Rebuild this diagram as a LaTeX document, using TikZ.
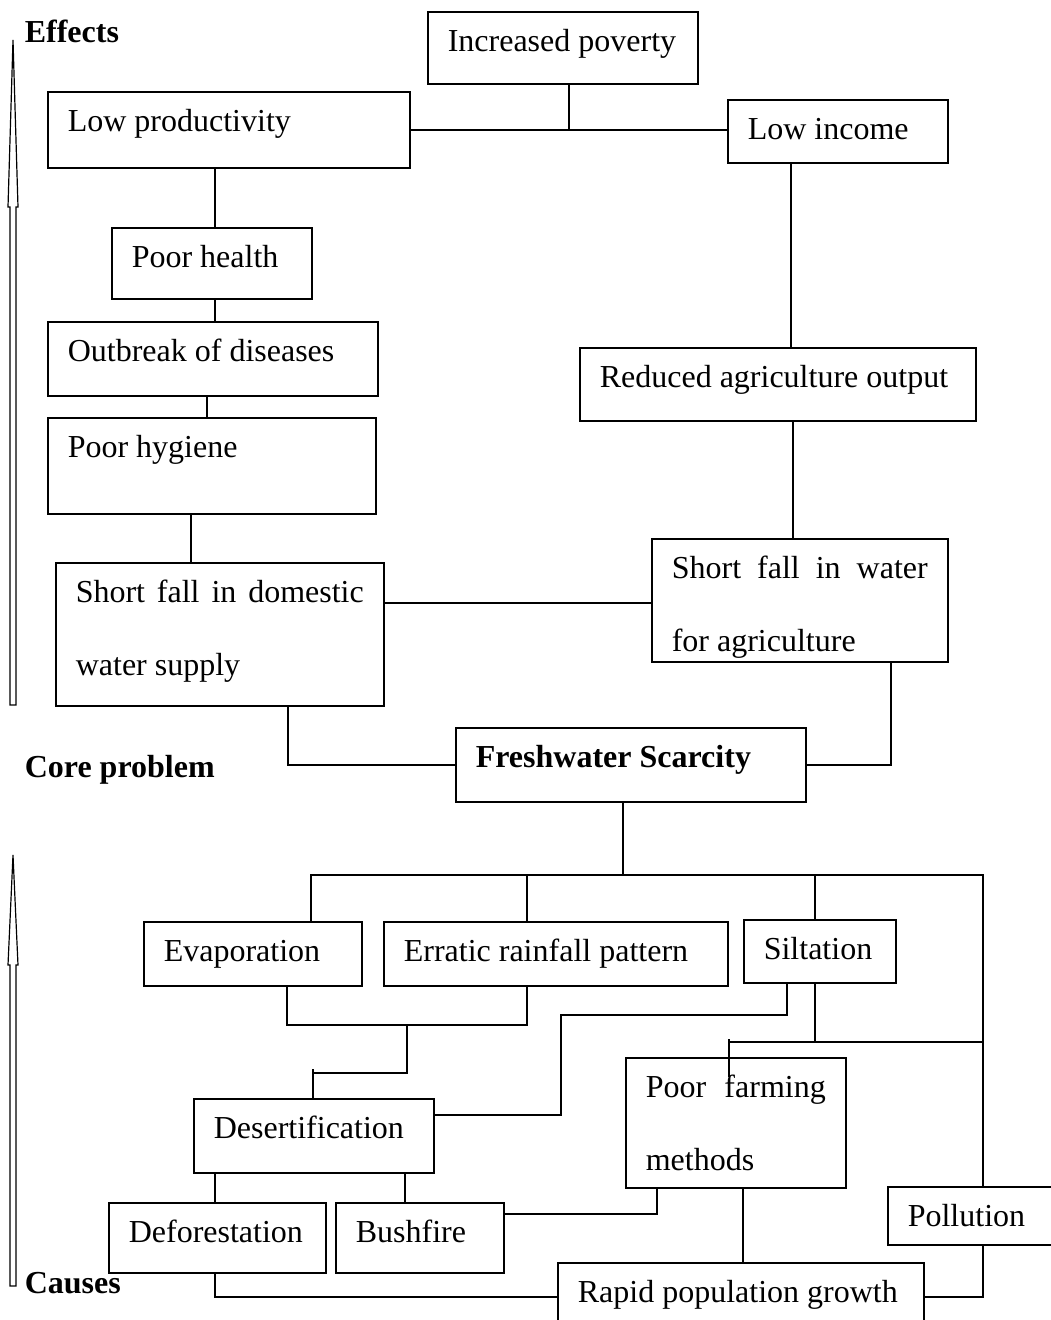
\documentclass[tikz,border=0pt]{standalone}
\usepackage{fontspec}
\setmainfont{Liberation Serif}
\usepackage{tikz}

\newcommand{\boxtxt}[3]{\parbox[t][#2pt][t]{\dimexpr#1pt-40pt\relax}{\rule{0pt}{40pt}#3}}
\tikzset{
  blk/.style={draw, line width=1.6pt, anchor=north west, inner xsep=20pt, inner ysep=0pt},
  tag/.style={anchor=base west, inner sep=0pt, font=\fontsize{32pt}{73pt}\selectfont\bfseries}
}

\begin{document}
\begin{tikzpicture}[x=1pt, y=-1pt, line width=1.6pt, font=\fontsize{32pt}{73pt}\selectfont]
      \useasboundingbox (0,0) rectangle (1050,1320);
      % effects
      \node[blk] (poverty) at (427,11) {\boxtxt{270}{72}{Increased poverty}};
      \node[blk] (lowprod) at (47,91) {\boxtxt{362}{76}{Low productivity}};
      \node[blk] (lowinc) at (727,99) {\boxtxt{220}{63}{Low income}};
      \node[blk] (health) at (111,227) {\boxtxt{200}{71}{Poor health}};
      \node[blk] (outbreak) at (47,321) {\boxtxt{330}{74}{Outbreak of diseases}};
      \node[blk] (hygiene) at (47,417) {\boxtxt{328}{96}{Poor hygiene}};
      \node[blk] (reduced) at (579,347) {\boxtxt{396}{73}{Reduced agriculture output}};
      \node[blk] (domestic) at (55,562) {\boxtxt{328}{143}{Short fall in domestic\linebreak water supply}};
      \node[blk] (agrwater) at (651,538) {\boxtxt{296}{123}{Short fall in water\linebreak for agriculture}};
      % core problem
      \node[blk] (fresh) at (455,727) {\boxtxt{350}{74}{\bfseries Freshwater Scarcity}};
      % causes
      \node[blk] (evap) at (143,921) {\boxtxt{218}{64}{Evaporation}};
      \node[blk] (erratic) at (383,921) {\boxtxt{344}{64}{Erratic rainfall pattern}};
      \node[blk] (silt) at (743,919) {\boxtxt{152}{63}{Siltation}};
      \node[blk] (desert) at (193,1098) {\boxtxt{240}{74}{Desertification}};
      \node[blk] (farming) at (625,1057) {\boxtxt{220}{130}{Poor farming\linebreak methods}};
      \node[blk] (deforest) at (108,1202) {\boxtxt{217}{70}{Deforestation}};
      \node[blk] (bush) at (335,1202) {\boxtxt{168}{70}{Bushfire}};
      \node[blk] (pollution) at (887,1186) {\boxtxt{200}{58}{Pollution}};
      \node[blk] (rapid) at (557,1262) {\boxtxt{366}{68}{Rapid population growth}};
      \coordinate (hub) at (623,875);
      % side labels
      \node[tag] (effects) at (24,42) {Effects};
      \node[tag] (core) at (24,777) {Core problem};
      \node[tag] (causes) at (24,1293) {Causes};
      \draw[line width=1.2pt] (13,40) -- (18,207) -- (16,207) -- (16,705) -- (10,705) -- (10,207) -- (8,207) -- cycle;
      \draw[line width=1.2pt] (13,855) -- (18,965) -- (16,965) -- (16,1286) -- (10,1286) -- (10,965) -- (8,965) -- cycle;
      % effect links
      \draw (lowprod.east) -- (lowprod.east -| lowinc.west);
      \draw (569,0 |- poverty.south) -- (569,0 |- lowprod.east);
      \draw (215,0 |- lowprod.south) -- (215,0 |- health.north);
      \draw (215,0 |- health.south) -- (215,0 |- outbreak.north);
      \draw (207,0 |- outbreak.south) -- (207,0 |- hygiene.north);
      \draw (191,0 |- hygiene.south) -- (191,0 |- domestic.north);
      \draw (791,0 |- lowinc.south) -- (791,0 |- reduced.north);
      \draw (793,0 |- reduced.south) -- (793,0 |- agrwater.north);
      \draw (domestic.east |- 0,603) -- (agrwater.west |- 0,603);
      \draw (288,0 |- domestic.south) |- (fresh.west);
      \draw (891,0 |- agrwater.south) |- (fresh.east);
      % cause links
      \draw (623,0 |- fresh.south) -- (hub);
      \draw (311,0 |- evap.north) |- (983,875) -- (983,0 |- pollution.north);
      \draw (527,0 |- erratic.north) -- (527,875);
      \draw (815,0 |- silt.north) -- (815,875);
      \draw (287,0 |- evap.south) |- (527,1025) -- (527,0 |- erratic.south);
      \draw (407,1025) |- (313,1073);
      \draw (313,1069) -- (313,0 |- desert.north);
      \draw (desert.east |- 0,1115) -| (561,1015) -| (787,0 |- silt.south);
      \draw (815,0 |- silt.south) |- (983,1042);
      \draw (815,1042) -- (729,1042);
      \draw (729,1039) -- (729,1077);
      \draw (215,0 |- desert.south) -- (215,0 |- deforest.north);
      \draw (405,0 |- desert.south) -- (405,0 |- bush.north);
      \draw (bush.east |- 0,1214) -| (657,0 |- farming.south);
      \draw (743,0 |- farming.south) -- (743,0 |- rapid.north);
      \draw (215,0 |- deforest.south) |- (rapid.west);
      \draw (rapid.east) -| (983,0 |- pollution.south);
\end{tikzpicture}
\end{document}
